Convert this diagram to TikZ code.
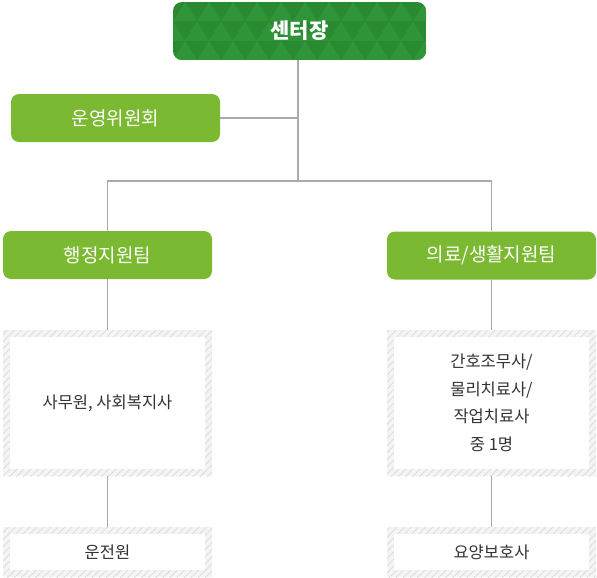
\documentclass[tikz,border=0pt]{standalone}
\usepackage{fontspec}
\setmainfont{Noto Sans CJK KR}
\usetikzlibrary{patterns.meta}
\definecolor{topgreen}{HTML}{2A8A31}
\definecolor{toplight}{HTML}{309539}
\definecolor{leaf}{HTML}{7BB932}
\definecolor{conn}{HTML}{AAAAAA}
\definecolor{hatchbg}{HTML}{F3F4F3}
\definecolor{hatchln}{HTML}{D9DBD9}
\definecolor{txt}{HTML}{333333}
\tikzset{
  conline/.style={draw=conn, line width=1.8pt},
  topbox/.style={minimum width=253pt, minimum height=58pt, inner sep=0pt, text=white, font=\fontsize{21}{23}\selectfont\bfseries},
  greenbox/.style={fill=leaf, rounded corners=8pt, minimum width=209pt, minimum height=48pt, inner sep=0pt, text=white, font=\fontsize{19}{21}\selectfont},
  hatchbox/.style={minimum width=209pt, inner sep=0pt, text=txt, align=center,
    font=\fontsize{16.5}{27.5}\selectfont,
    preaction={fill=hatchbg},
    pattern={Lines[angle=45,distance=5pt,line width=0.7pt]}, pattern color=hatchln,
    path picture={\fill[white] ([shift={(7pt,7pt)}]path picture bounding box.south west) rectangle ([shift={(-7pt,-7pt)}]path picture bounding box.north east);}}
}
\begin{document}
\begin{tikzpicture}[x=1pt,y=-1pt]
\useasboundingbox (0,0) rectangle (597,578);
% triangle-patterned top box
\begin{scope}
  \clip[rounded corners=9pt] (173,2) rectangle (426,60);
  \fill[topgreen] (173,2) rectangle (426,60);
  \foreach \r in {0,1,2}{
    \foreach \k in {0,...,11}{
      \pgfmathsetmacro\xa{173+\k*24-mod(\r,2)*12}
      \pgfmathsetmacro\ya{2+\r*19.4}
      \pgfmathsetmacro\yb{2+(\r+1)*19.4}
      \fill[toplight] (\xa,\yb) -- (\xa+12,\ya) -- (\xa+24,\yb) -- cycle;
    }
  }
\end{scope}
\node[topbox] (c) at (299.5,31) {센터장};
\node[greenbox, minimum height=48pt] (w) at (115.5,118) {운영위원회};
\node[greenbox] (a) at (107.5,255) {행정지원팀};
\node[greenbox] (m) at (491.5,255.5) {의료/생활지원팀};
\node[hatchbox, minimum height=146pt] (a1) at (107.5,403) {사무원, 사회복지사};
\node[hatchbox, minimum height=146pt] (m1) at (491.5,403) {간호조무사/\\물리치료사/\\작업치료사\\중 1명};
\node[hatchbox, minimum height=50pt] (a2) at (107.5,552) {운전원};
\node[hatchbox, minimum height=50pt] (m2) at (491.5,552) {요양보호사};
\coordinate (j) at (298,181);
\draw[conline] (c.south -| j) -- (j);
\draw[conline] (w.east) -- (w.east -| j);
\draw[conline] (a.north) |- (j) -| (m.north);
\draw[conline] (a.south) -- (a1.north);
\draw[conline] (a1.south) -- (a2.north);
\draw[conline] (m.south) -- (m1.north);
\draw[conline] (m1.south) -- (m2.north);
\end{tikzpicture}
\end{document}
